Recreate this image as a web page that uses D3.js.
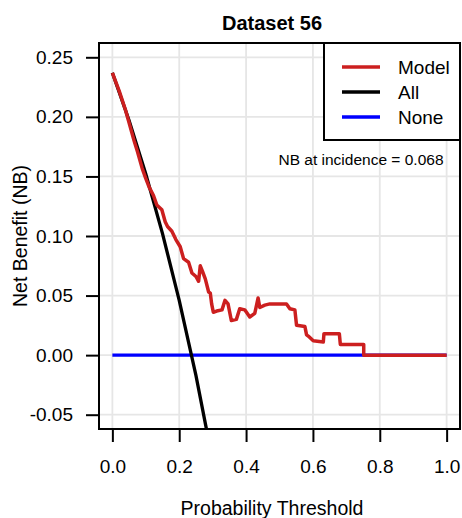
<!DOCTYPE html>
<html>
<head>
<meta charset="utf-8">
<script src="https://cdn.jsdelivr.net/npm/d3@7"></script>
<style>
  body { margin: 0; background: #fff; }
  text { font-family: "Liberation Sans", Arial, sans-serif; fill: #000; }
</style>
</head>
<body>
<div id="chart"></div>
<script>
// data
var xTicks = [0, 0.2, 0.4, 0.6, 0.8, 1.0];
var yTicks = [-0.05, 0, 0.05, 0.10, 0.15, 0.20, 0.25];

// model net benefit (threshold, NB)
var modelPts = [
  [0.000,0.237],[0.020,0.222],[0.039,0.206],[0.050,0.195],[0.065,0.180],[0.075,0.171],
  [0.089,0.157],[0.099,0.149],[0.110,0.141],[0.123,0.134],[0.133,0.126],[0.148,0.122],
  [0.158,0.112],[0.165,0.108],[0.178,0.104],[0.190,0.097],[0.203,0.091],[0.213,0.081],
  [0.228,0.078],[0.238,0.069],[0.250,0.066],[0.258,0.062],[0.263,0.075],[0.270,0.070],
  [0.278,0.064],[0.288,0.053],[0.293,0.052],[0.297,0.043],[0.302,0.036],[0.312,0.037],
  [0.328,0.038],[0.337,0.046],[0.346,0.043],[0.356,0.029],[0.371,0.030],[0.381,0.039],
  [0.396,0.038],[0.411,0.032],[0.426,0.035],[0.436,0.048],[0.441,0.040],[0.456,0.042],
  [0.471,0.043],[0.521,0.043],[0.531,0.039],[0.546,0.038],[0.551,0.025],[0.576,0.024],
  [0.581,0.017],[0.586,0.016],[0.601,0.012],[0.631,0.011],[0.633,0.018],[0.679,0.018],
  [0.682,0.009],[0.752,0.009],[0.752,0.000],[1.000,0.000]
];
// treat-all curve
var allPts = [
  [0.00,0.237],[0.05,0.197],[0.10,0.152],[0.15,0.102],[0.20,0.046],
  [0.25,-0.017],[0.28,-0.060],[0.29,-0.074]
];
// treat-none
var nonePts = [[0,0],[1,0]];

var legendNames = ["Model", "All", "None"];
var legendColors = ["#cc1f1f", "#000000", "#0000ff"];
var incidenceLabel = "NB at incidence = 0.068";

var W = 462, H = 518;
var pL = 99, pR = 460, pT = 43, pB = 429;

var svg = d3.select("#chart").append("svg")
  .attr("width", W).attr("height", H);

var x = d3.scaleLinear().domain([-0.04, 1.04]).range([pL, pR]);
var y = d3.scaleLinear().domain([-0.062, 0.262]).range([pB, pT]);

svg.append("clipPath").attr("id", "clip")
  .append("rect").attr("x", pL).attr("y", pT)
  .attr("width", pR - pL).attr("height", pB - pT);

// grid
svg.append("g").selectAll("line.vg").data(xTicks).enter().append("line")
  .attr("x1", d => x(d)).attr("x2", d => x(d))
  .attr("y1", pT).attr("y2", pB)
  .attr("stroke", "#e6e6e6").attr("stroke-width", 1.8);
svg.append("g").selectAll("line.hg").data(yTicks).enter().append("line")
  .attr("x1", pL).attr("x2", pR)
  .attr("y1", d => y(d)).attr("y2", d => y(d))
  .attr("stroke", "#e6e6e6").attr("stroke-width", 1.8);

// axes (plain hyphen for negatives, like R)
var fmt2 = d3.format(".2f");
var xAxis = svg.append("g").attr("transform", "translate(0," + pB + ")")
  .call(d3.axisBottom(x).tickValues(xTicks).tickFormat(d3.format(".1f")).tickSize(13).tickPadding(18));
var yAxis = svg.append("g").attr("transform", "translate(" + pL + ",0)")
  .call(d3.axisLeft(y).tickValues(yTicks)
    .tickFormat(d => fmt2(d).replace("\u2212", "-")).tickSize(13).tickPadding(13));
[xAxis, yAxis].forEach(function(a) {
  a.select(".domain").remove();
  a.selectAll(".tick line").attr("stroke", "#000").attr("stroke-width", 2);
  a.selectAll(".tick text").style("font-size", "19px")
    .style("font-family", "'Liberation Sans', Arial, sans-serif").attr("fill", "#000");
});

// lines
var line = d3.line().x(d => x(d[0])).y(d => y(d[1]));
var g = svg.append("g").attr("clip-path", "url(#clip)");
g.append("path").datum(nonePts).attr("d", line)
  .attr("fill", "none").attr("stroke", legendColors[2]).attr("stroke-width", 3.3);
g.append("path").datum(allPts).attr("d", line)
  .attr("fill", "none").attr("stroke", legendColors[1]).attr("stroke-width", 3.3);
g.append("path").datum(modelPts).attr("d", line)
  .attr("fill", "none").attr("stroke", legendColors[0]).attr("stroke-width", 3.5)
  .attr("stroke-linejoin", "round");

// box
svg.append("rect").attr("x", pL).attr("y", pT)
  .attr("width", pR - pL).attr("height", pB - pT)
  .attr("fill", "none").attr("stroke", "#000").attr("stroke-width", 2);

// legend
var lg = svg.append("g");
lg.append("rect").attr("x", 324).attr("y", pT)
  .attr("width", pR - 324).attr("height", 140 - pT)
  .attr("fill", "#fff").attr("stroke", "#000").attr("stroke-width", 2);
legendNames.forEach(function(name, i) {
  var ly = 67 + i * 25;
  lg.append("line").attr("x1", 342).attr("x2", 380).attr("y1", ly).attr("y2", ly)
    .attr("stroke", legendColors[i]).attr("stroke-width", 3.5);
  lg.append("text").attr("x", 398).attr("y", ly + 7)
    .style("font-size", "19px").text(name);
});

svg.append("text").attr("x", 361).attr("y", 165)
  .attr("text-anchor", "middle").style("font-size", "15.5px").text(incidenceLabel);

// titles
svg.append("text").attr("x", 272).attr("y", 30)
  .attr("text-anchor", "middle").style("font-size", "20px").style("font-weight", "bold")
  .text("Dataset 56");
svg.append("text").attr("x", 272).attr("y", 515)
  .attr("text-anchor", "middle").style("font-size", "19.5px")
  .text("Probability Threshold");
svg.append("text").attr("transform", "translate(27,236) rotate(-90)")
  .attr("text-anchor", "middle").style("font-size", "19.5px")
  .text("Net Benefit (NB)");
</script>
</body>
</html>
